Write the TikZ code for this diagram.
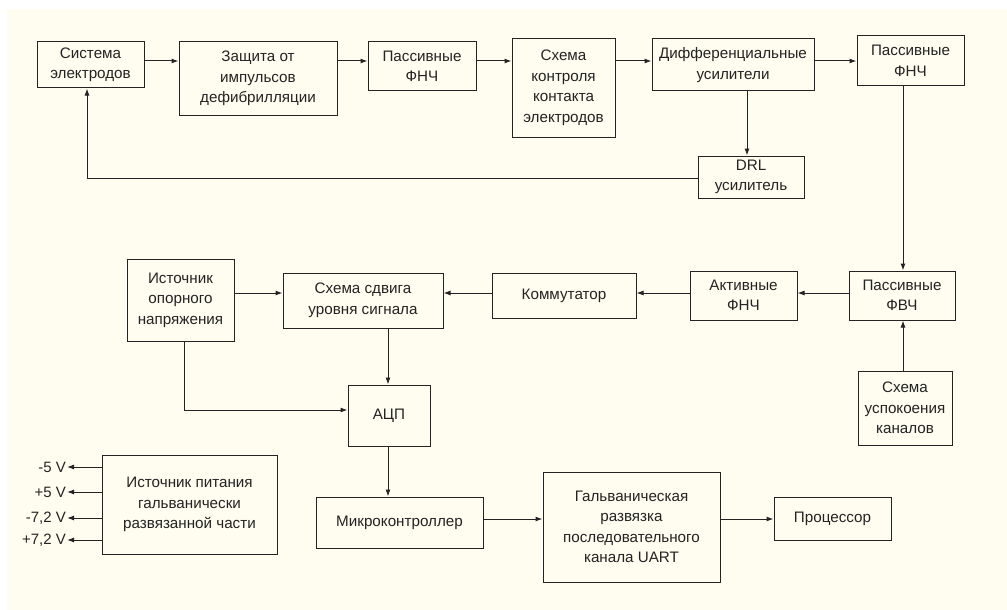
\documentclass[tikz,border=0pt]{standalone}
\usepackage{fontspec}
\setmainfont{Liberation Sans}
\usetikzlibrary{arrows.meta}
\definecolor{bgc}{RGB}{255,253,240}
\definecolor{lnc}{RGB}{35,35,35}
\begin{document}
\begin{tikzpicture}[x=1pt,y=-1pt,
  blk/.style={draw=lnc, line width=1pt, align=center, inner sep=0pt,
    font=\fontsize{15.2}{20.5}\selectfont, text=lnc},
  arr/.style={draw=lnc, line width=1pt, -{Latex[length=7pt,width=5pt]}},
  volt/.style={anchor=east, inner sep=1pt, font=\fontsize{15}{18}\selectfont, text=lnc}]
\useasboundingbox (0,0) rectangle (1007,610);
\fill[bgc] (7,9) rectangle (1007,610);
% top row
\node[blk, minimum width=107pt, minimum height=46pt] (sys) at (90.5,65) {Система\\электродов};
\node[blk, minimum width=158pt, minimum height=73pt] (zash) at (258,78.5) {Защита от\\импульсов\\дефибрилляции};
\node[blk, minimum width=108pt, minimum height=49pt] (pf1) at (422,66.5) {Пассивные\\ФНЧ};
\node[blk, minimum width=103pt, minimum height=98pt] (kont) at (563.5,88) {Схема\\контроля\\контакта\\электродов};
\node[blk, minimum width=162pt, minimum height=52pt] (diff) at (733,65) {Дифференциальные\\усилители};
\node[blk, minimum width=107pt, minimum height=50pt] (pf2) at (910.5,61) {Пассивные\\ФНЧ};
\node[blk, minimum width=106pt, minimum height=42pt] (drl) at (751,177) {DRL\\усилитель};
% middle row
\node[blk, minimum width=107pt, minimum height=82pt] (ist) at (180.5,300) {Источник\\опорного\\напряжения};
\node[blk, minimum width=160pt, minimum height=55pt] (sdv) at (363,300.5) {Схема сдвига\\уровня сигнала};
\node[blk, minimum width=144pt, minimum height=45pt] (kom) at (564,295.5) {Коммутатор};
\node[blk, minimum width=107pt, minimum height=49pt] (akt) at (743.5,295.5) {Активные\\ФНЧ};
\node[blk, minimum width=106pt, minimum height=49pt] (fvch) at (902,295.5) {Пассивные\\ФВЧ};
\node[blk, minimum width=94pt, minimum height=74pt] (usp) at (905,408) {Схема\\успокоения\\каналов};
\node[blk, minimum width=82pt, minimum height=61pt] (adc) at (389,415.5) {АЦП};
% bottom row
\node[blk, minimum width=175pt, minimum height=99pt] (pit) at (189.5,504.5) {Источник питания\\гальванически\\развязанной части};
\node[blk, minimum width=167pt, minimum height=51pt] (mcu) at (399.5,522.5) {Микроконтроллер};
\node[blk, minimum width=177pt, minimum height=110pt] (galv) at (631.5,527) {Гальваническая\\развязка\\последовательного\\канала UART};
\node[blk, minimum width=117pt, minimum height=43pt] (proc) at (832.5,518.5) {Процессор};
% voltage labels
\node[volt] (v1) at (67,467) {-5 V};
\node[volt] (v2) at (67,492) {+5 V};
\node[volt] (v3) at (67,518) {-7,2 V};
\node[volt] (v4) at (67,540) {+7,2 V};
% connectors top
\draw[arr] (sys.east |- 0,61) -- (zash.west |- 0,61);
\draw[arr] (zash.east |- 0,61) -- (pf1.west |- 0,61);
\draw[arr] (pf1.east |- 0,61) -- (kont.west |- 0,61);
\draw[arr] (kont.east |- 0,61) -- (diff.west |- 0,61);
\draw[arr] (diff.east |- 0,61) -- (pf2.west |- 0,61);
\draw[arr] (diff.south -| 747,0) -- (drl.north -| 747,0);
\draw[arr] (drl.west |- 0,178) -| (sys.south -| 87,0);
% right column and middle row
\draw[arr] (pf2.south -| 903,0) -- (fvch.north -| 903,0);
\draw[arr] (usp.north -| 903,0) -- (fvch.south -| 903,0);
\draw[arr] (fvch.west |- 0,293) -- (akt.east |- 0,293);
\draw[arr] (akt.west |- 0,293) -- (kom.east |- 0,293);
\draw[arr] (kom.west |- 0,293) -- (sdv.east |- 0,293);
\draw[arr] (ist.east |- 0,293) -- (sdv.west |- 0,293);
\draw[arr] (sdv.south -| 388,0) -- (adc.north -| 388,0);
\draw[arr] (ist.south -| 184,0) |- (adc.west |- 0,410);
\draw[arr] (adc.south -| 388,0) -- (mcu.north -| 388,0);
% bottom
\draw[arr] (mcu.east |- 0,519) -- (galv.west |- 0,519);
\draw[arr] (galv.east |- 0,519) -- (proc.west |- 0,519);
\draw[arr] (pit.west |- v1) -- (v1.east);
\draw[arr] (pit.west |- v2) -- (v2.east);
\draw[arr] (pit.west |- v3) -- (v3.east);
\draw[arr] (pit.west |- v4) -- (v4.east);
\end{tikzpicture}
\end{document}
